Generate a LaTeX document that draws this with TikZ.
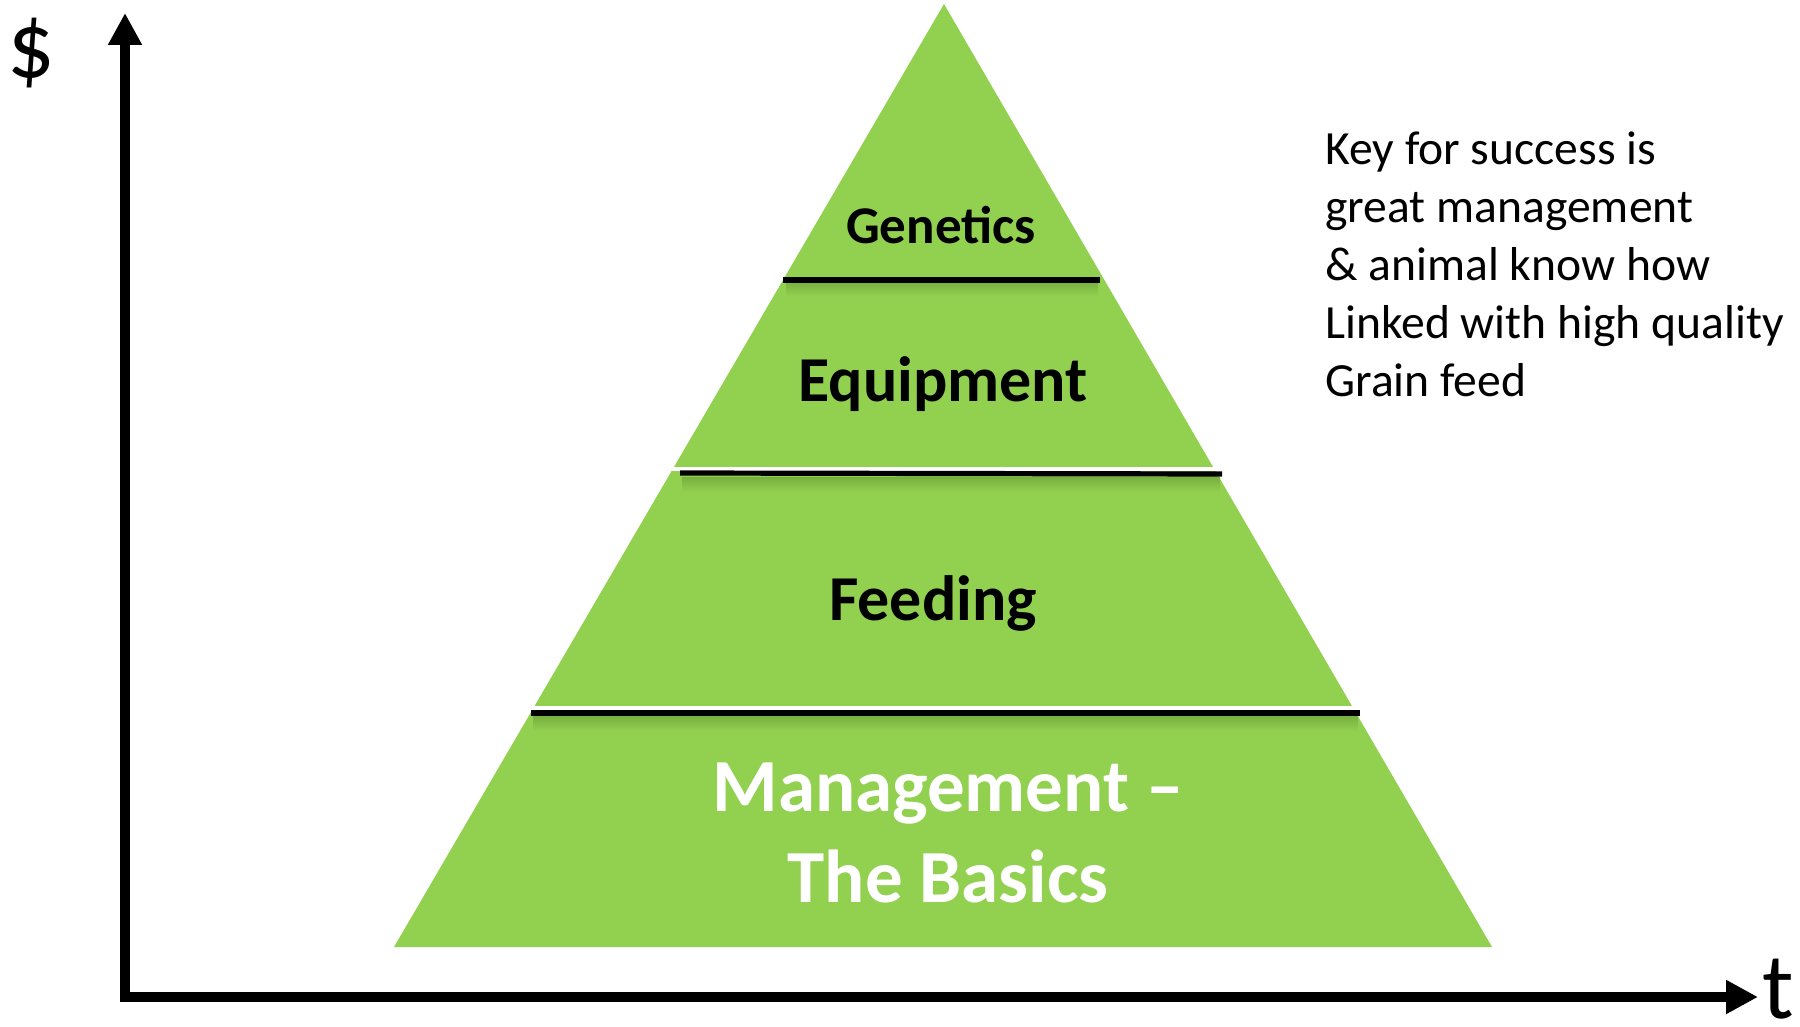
\documentclass[tikz,border=0pt]{standalone}
\usepackage{fontspec}
\setmainfont{Carlito}
\usetikzlibrary{arrows.meta}
\definecolor{pgreen}{HTML}{92D050}
\definecolor{pshadow}{HTML}{78B040}
\tikzset{
  axis/.style={line width=5pt,-{Triangle[length=16pt,width=16pt]}},
  sepline/.style={line width=2.6pt,black},
  gap/.style={line width=1.6pt,white},
  lvl/.style={font=\bfseries\fontsize{32pt}{38pt}\selectfont,inner sep=0pt},
  axlabel/.style={inner sep=0pt,font=\fontsize{47pt}{56pt}\selectfont},
}
\begin{document}
\begin{tikzpicture}[x=0.5pt,y=-0.5pt]
\useasboundingbox (0,0) rectangle (1800,1027);
% pyramid
\fill[pgreen] (944,4) -- (1492,947) -- (394,947) -- cycle;
% shadows below separators
\shade[top color=pshadow,bottom color=pgreen] (786,282) rectangle (1098,296);
\shade[top color=pshadow,bottom color=pgreen] (682,477) rectangle (1220,492);
\shade[top color=pshadow,bottom color=pgreen] (533,716) rectangle (1358,731);
% white gaps above lower separators
\draw[gap] (660,469) -- (1226,469);
\draw[gap] (520,708) -- (1368,708);
% separators
\coordinate (g1) at (783,280); \coordinate (g2) at (1100,280);
\coordinate (e1) at (680,473); \coordinate (e2) at (1222,474);
\coordinate (f1) at (531,713); \coordinate (f2) at (1360,713);
\draw[sepline] (g1) -- (g2);
\draw[sepline] (e1) -- (e2);
\draw[sepline] (f1) -- (f2);
% labels
\node[lvl,font=\bfseries\fontsize{26.5pt}{32pt}\selectfont] (gen) at (941,225) {Genetics};
\node[lvl] (equ) at (943,384) {Equipment};
\node[lvl] (fee) at (933,603) {Feeding};
\node[inner sep=0pt,align=center,text=white,font=\bfseries\fontsize{37.5pt}{45.5pt}\selectfont] (man) at (948,833) {Management --\\The Basics};
% note
\node[inner sep=0pt,anchor=north west,align=left,font=\fontsize{23.8pt}{29.1pt}\selectfont] (note) at (1325,131) {Key for success is\\great management\\\& animal know how\\Linked with high quality\\Grain feed};
% axes
\coordinate (o) at (125,997);
\coordinate (ytop) at (125,13);
\coordinate (xend) at (1758,997);
\draw[axis] ([yshift=-1.25pt]o) -- (ytop);
\draw[axis] ([xshift=-2.5pt]o) -- (xend);
\node[axlabel] (dol) at (31,53) {\$};
\node[axlabel,anchor=base] (t) at (1778,1018) {t};
\end{tikzpicture}
\end{document}
